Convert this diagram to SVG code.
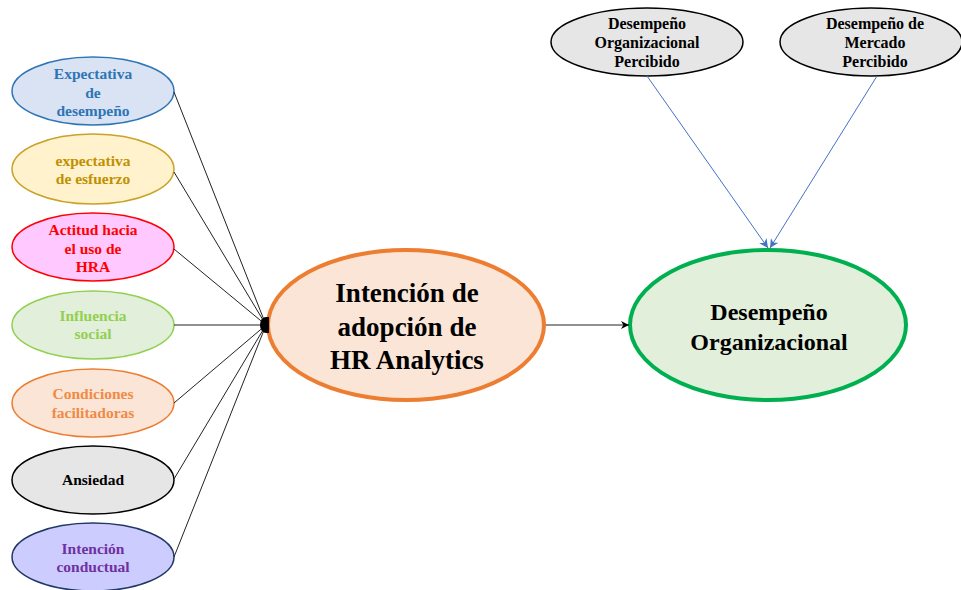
<svg xmlns="http://www.w3.org/2000/svg" width="961" height="590" viewBox="0 0 961 590">
<style>
text{font-family:"Liberation Serif","Times New Roman",serif;font-weight:bold;text-anchor:middle}
.s{font-size:15.5px}
.t{font-size:16px;fill:#000}
.big{font-size:27px;fill:#000}
.mid{font-size:24px;fill:#000}
.blk{stroke:#222;stroke-width:1;fill:none}
.blu{stroke:#4472C4;stroke-width:1;fill:none}
</style>
<defs>
<marker id="ab" viewBox="0 0 10 10" refX="10" refY="5" markerWidth="8" markerHeight="8" orient="auto" markerUnits="userSpaceOnUse"><path d="M0,0 L10,5 L0,10 L3,5 Z" fill="#000"/></marker>
<marker id="au" viewBox="0 0 10 10" refX="10" refY="5" markerWidth="9" markerHeight="9" orient="auto" markerUnits="userSpaceOnUse"><path d="M0,0 L10,5 L0,10 L3,5 Z" fill="#4472C4"/></marker>
</defs>
<rect width="961" height="590" fill="#fff"/>
<g id="n1"><ellipse cx="93" cy="91" rx="81" ry="34" fill="#DAE3F3" stroke="#2E75B6" stroke-width="1.5"/>
<text class="s" fill="#2E75B6"><tspan x="93" y="79">Expectativa</tspan><tspan x="93" y="98">de</tspan><tspan x="93" y="116">desempeño</tspan></text></g>
<g id="n2"><ellipse cx="93" cy="169" rx="81" ry="35" fill="#FFF2CC" stroke="#C9A227" stroke-width="1.5"/>
<text class="s" fill="#BF9000"><tspan x="93" y="166">expectativa</tspan><tspan x="93" y="184">de esfuerzo</tspan></text></g>
<g id="n3"><ellipse cx="93" cy="247" rx="81" ry="34" fill="#FFC9FF" stroke="#FF0000" stroke-width="1.5"/>
<text class="s" fill="#FF0000"><tspan x="93" y="235">Actitud hacia</tspan><tspan x="93" y="254">el uso de</tspan><tspan x="93" y="272">HRA</tspan></text></g>
<g id="n4"><ellipse cx="93" cy="325" rx="81" ry="34" fill="#E2EFDA" stroke="#92D050" stroke-width="1.5"/>
<text class="s" fill="#92D050"><tspan x="93" y="321">Influencia</tspan><tspan x="93" y="339">social</tspan></text></g>
<g id="n5"><ellipse cx="93" cy="403" rx="81" ry="34" fill="#FBE5D6" stroke="#ED7D31" stroke-width="1.5"/>
<text class="s" fill="#F08A45"><tspan x="93" y="399">Condiciones</tspan><tspan x="93" y="418">facilitadoras</tspan></text></g>
<g id="n6"><ellipse cx="93" cy="480" rx="81" ry="34" fill="#E7E6E6" stroke="#000" stroke-width="1.5"/>
<text class="s" fill="#000"><tspan x="93" y="485">Ansiedad</tspan></text></g>
<g id="n7"><ellipse cx="93" cy="557" rx="81" ry="34" fill="#CCCCFF" stroke="#203864" stroke-width="1.5"/>
<text class="s" fill="#7030A0"><tspan x="93" y="554">Intención</tspan><tspan x="93" y="572">conductual</tspan></text></g>
<g id="central"><ellipse cx="406" cy="325" rx="138" ry="75" fill="#FBE5D6" stroke="#ED7D31" stroke-width="4"/>
<text class="big"><tspan x="407" y="302">Intención de</tspan><tspan x="407" y="336">adopción de</tspan><tspan x="407" y="369">HR Analytics</tspan></text></g>
<g id="outcome"><ellipse cx="768" cy="325" rx="138" ry="75" fill="#E2EFDA" stroke="#00B050" stroke-width="4"/>
<text class="mid"><tspan x="769" y="320">Desempeño</tspan><tspan x="769" y="350">Organizacional</tspan></text></g>
<g id="top1"><ellipse cx="647" cy="42" rx="96" ry="34" fill="#E7E6E6" stroke="#000" stroke-width="1.5"/>
<text class="t"><tspan x="647" y="29">Desempeño</tspan><tspan x="647" y="48">Organizacional</tspan><tspan x="647" y="67">Percibido</tspan></text></g>
<g id="top2"><ellipse cx="871" cy="42" rx="91" ry="34" fill="#E7E6E6" stroke="#000" stroke-width="1.5"/>
<text class="t"><tspan x="875" y="29">Desempeño de</tspan><tspan x="875" y="48">Mercado</tspan><tspan x="875" y="67">Percibido</tspan></text></g>
<g id="connectors">
<line class="blk" x1="174" y1="92" x2="266" y2="325"/>
<line class="blk" x1="174" y1="172" x2="266" y2="325"/>
<line class="blk" x1="174" y1="249" x2="266" y2="325"/>
<line class="blk" x1="174" y1="325" x2="266" y2="325"/>
<line class="blk" x1="174" y1="403" x2="266" y2="325"/>
<line class="blk" x1="174" y1="479" x2="266" y2="325"/>
<line class="blk" x1="174" y1="557" x2="266" y2="325"/>
<path d="M269,317 L266,317 A6,8 0 0 0 266,333 L269,333 Z" fill="#000"/>
<line class="blk" x1="546" y1="325" x2="629" y2="325" marker-end="url(#ab)"/>
<line class="blu" x1="647" y1="76" x2="768" y2="248" marker-end="url(#au)"/>
<line class="blu" x1="877" y1="76" x2="770" y2="248" marker-end="url(#au)"/>
</g>
</svg>
